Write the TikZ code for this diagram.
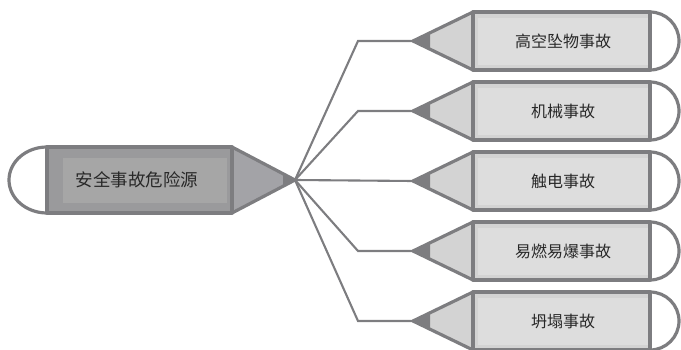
\documentclass[tikz,border=0pt]{standalone}
\usepackage{fontspec}
\newfontfamily\cjk{Noto Sans CJK SC}
\definecolor{edge}{RGB}{125,125,128}
\definecolor{rootbody}{RGB}{154,154,156}
\definecolor{rootinner}{RGB}{166,166,166}
\definecolor{roottip}{RGB}{163,163,167}
\definecolor{leafbody}{RGB}{211,211,211}
\definecolor{leafinner}{RGB}{221,221,221}
\definecolor{txt}{RGB}{40,40,40}
\tikzset{
  outline/.style={draw=edge, line width=3.2pt, line join=round},
  conn/.style={draw=edge, line width=2.1pt, line join=miter},
  rootbox/.style={rectangle, outline, minimum width=185pt, minimum height=66pt, inner sep=0pt},
  leafbox/.style={rectangle, outline, minimum width=177pt, minimum height=58pt, inner sep=0pt},
  rootlbl/.style={font=\cjk\fontsize{17.5}{20}\selectfont, text=txt},
  leaflbl/.style={font=\cjk\fontsize{16}{19}\selectfont, text=txt}
}
\begin{document}
\begin{tikzpicture}[x=1pt,y=-1pt]
\useasboundingbox (0,0) rectangle (681,350);

% connector anchors
\coordinate (rt) at (295,180);
\foreach \i/\y in {1/41,2/111,3/181,4/251,5/321}{
  \coordinate (k\i) at (358,\y);
  \coordinate (lt\i) at (413,\y);
}
\foreach \i in {1,2,4,5}{ \draw[conn] (rt) -- (k\i) -- (lt\i); }
\draw[conn] (rt) -- (lt3);

% root pencil
\filldraw[outline, fill=white] (47,147) arc[start angle=-90, end angle=-270, x radius=38, y radius=33] -- cycle;
\filldraw[outline, fill=roottip] (232,147) -- (rt) -- (232,213) -- cycle;
\fill[edge] (283,173.7) -- (rt) -- (283,186.3) -- cycle;
\fill[rootbody] (47,147) rectangle (232,213);
\fill[rootinner] (63,158) rectangle (227,203);
\node[rootbox] (root) at (139.5,180) {};
\node[rootlbl] (roottext) at (137,180) {安全事故危险源};

% leaf pencils
\foreach \i/\y/\t in {1/41/高空坠物事故,2/111/机械事故,3/181/触电事故,4/251/易燃易爆事故,5/321/坍塌事故}{
  \filldraw[outline, fill=white] (650,\y-29) arc[start angle=-90, end angle=90, radius=29] -- cycle;
  \filldraw[outline, fill=leafbody] (473,\y-29) -- (lt\i) -- (473,\y+29) -- cycle;
  \fill[edge] (430,\y-8.2) -- (lt\i) -- (430,\y+8.2) -- cycle;
  \fill[leafbody] (473,\y-29) rectangle (650,\y+29);
  \fill[leafinner] (478,\y-23) rectangle (648,\y+24);
  \node[leafbox] (leaf\i) at (561.5,\y) {};
  \node[leaflbl] (leaftext\i) at (563,\y) {\t};
}
\end{tikzpicture}
\end{document}
